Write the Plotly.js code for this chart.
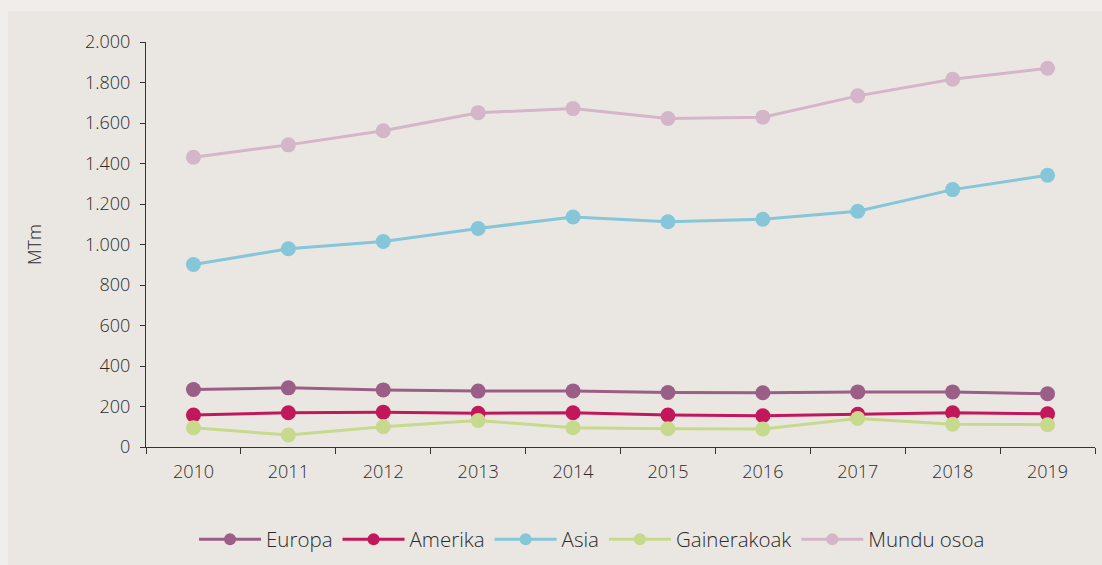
<!DOCTYPE html>
<html>
<head>
<meta charset="utf-8">
<script src="https://cdn.plot.ly/plotly-3.0.1.min.js"></script>
<style>
html,body{margin:0;padding:0;background:#efeeea;width:1102px;height:565px;overflow:hidden;}
#chart{position:absolute;left:8px;top:11px;width:1094px;height:554px;}
</style>
</head>
<body>
<div id="chart"></div>
<script>
const years = ["2010","2011","2012","2013","2014","2015","2016","2017","2018","2019"];
const europa = [284, 292, 282, 276, 277, 269, 268, 272, 272, 263];
const amerika = [158, 169, 172, 167, 169, 158, 154, 162, 169, 164];
const asia = [901, 979, 1015, 1079, 1136, 1112, 1125, 1164, 1271, 1342];
const gainerakoak = [95, 59, 100, 131, 95, 90, 89, 141, 112, 110];
const mundu = [1431, 1492, 1562, 1651, 1671, 1622, 1629, 1734, 1816, 1870];
const yTicks = [0,200,400,600,800,1000,1200,1400,1600,1800,2000];
const yTickText = ["0","200","400","600","800","1.000","1.200","1.400","1.600","1.800","2.000"];

const series = [
  {name:"Europa", y:europa, color:"#9b5e87"},
  {name:"Amerika", y:amerika, color:"#c2185b"},
  {name:"Asia", y:asia, color:"#85c6d9"},
  {name:"Gainerakoak", y:gainerakoak, color:"#c6d98c"},
  {name:"Mundu osoa", y:mundu, color:"#d5b5c8"}
];

const traces = series.map(s => ({
  type:"scatter", mode:"lines+markers", name:s.name, x:years, y:s.y,
  line:{color:s.color, width:3},
  marker:{color:s.color, size:15},
  showlegend:false
}));
// legend entries (smaller symbols, as in the reference legend)
const legendTraces = series.map(s => ({
  type:"scatter", mode:"lines+markers", name:s.name, x:[null], y:[null],
  line:{color:s.color, width:3},
  marker:{color:s.color, size:12},
  showlegend:true, hoverinfo:"skip"
}));

const font = {family:"'Open Sans', Roboto, sans-serif", size:18, color:"#2b2b2b", weight:300};

const layout = {
  width:1094, height:554,
  paper_bgcolor:"#eae7e2", plot_bgcolor:"#eae7e2",
  margin:{l:138, r:7, t:31, b:117},
  font:font,
  showlegend:true,
  legend:{orientation:"h", x:0.47, xanchor:"center", y:-0.225, yanchor:"middle",
          font:{family:font.family, size:20.5, color:"#2b2b2b", weight:300},
          itemwidth:62},
  xaxis:{type:"category", showgrid:false, zeroline:false,
         showline:true, linecolor:"#333333", linewidth:1,
         ticks:"outside", tickson:"boundaries", ticklen:6, tickcolor:"#333333",
         tickfont:font, range:[-0.5,9.5], ticklabelstandoff:8},
  yaxis:{range:[0,2000], showgrid:false, zeroline:false,
         showline:true, linecolor:"#333333", linewidth:1,
         ticks:"outside", ticklen:5, tickcolor:"#333333",
         tickvals:yTicks, ticktext:yTickText, tickfont:font, ticklabelstandoff:6,
         title:{text:"MTm", font:font, standoff:38}}
};

Plotly.newPlot("chart", traces.concat(legendTraces), layout, {displayModeBar:false, staticPlot:true});
</script>
</body>
</html>
